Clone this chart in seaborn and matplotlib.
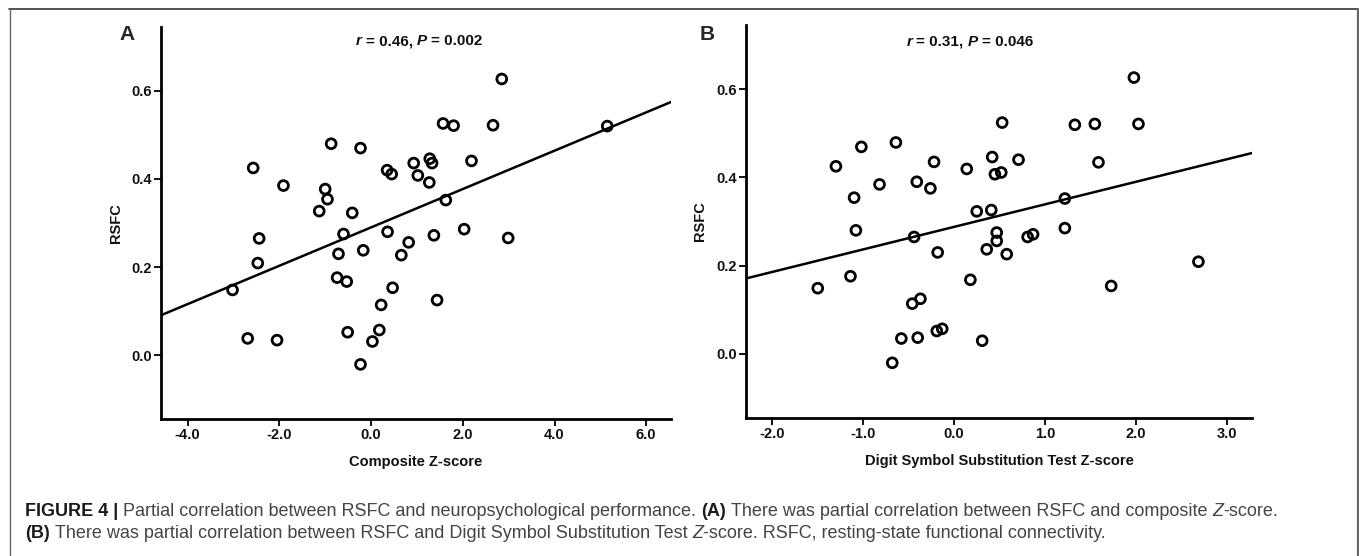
import matplotlib
matplotlib.use("Agg")
import matplotlib.pyplot as plt
import seaborn as sns
import numpy as np
import pandas as pd
from matplotlib import font_manager
from matplotlib.transforms import IdentityTransform
from matplotlib.lines import Line2D

# ---------------- data ----------------
composite_z = [-3.02, -2.69, -2.57, -2.44, -2.47, -2.05, -1.91, -1.13, -1.00, -0.95,
               -0.87, -0.74, -0.71, -0.60, -0.53, -0.51, -0.41, -0.23, -0.23, -0.17,
               0.03, 0.18, 0.22, 0.35, 0.36, 0.45, 0.47, 0.66, 0.82, 0.93,
               1.02, 1.27, 1.28, 1.33, 1.37, 1.44, 1.57, 1.63, 1.80, 2.03,
               2.19, 2.66, 2.85, 2.99, 5.15]
rsfc_a = [0.148, 0.038, 0.425, 0.265, 0.209, 0.034, 0.385, 0.327, 0.377, 0.354,
          0.480, 0.176, 0.230, 0.275, 0.167, 0.052, 0.323, 0.470, -0.021, 0.238,
          0.031, 0.057, 0.114, 0.420, 0.280, 0.411, 0.153, 0.227, 0.256, 0.436,
          0.408, 0.392, 0.446, 0.436, 0.272, 0.125, 0.526, 0.352, 0.521, 0.286,
          0.441, 0.522, 0.627, 0.266, 0.520]

dsst_z = [-1.50, -1.30, -1.14, -1.10, -1.08, -1.02, -0.82, -0.68, -0.64, -0.58,
          -0.46, -0.44, -0.41, -0.40, -0.37, -0.26, -0.22, -0.19, -0.18, -0.13,
          0.14, 0.18, 0.25, 0.31, 0.36, 0.41, 0.42, 0.45, 0.47, 0.47,
          0.52, 0.53, 0.58, 0.71, 0.81, 0.87, 1.22, 1.22, 1.33, 1.55,
          1.59, 1.73, 1.98, 2.03, 2.69]
rsfc_b = [0.149, 0.425, 0.176, 0.354, 0.280, 0.469, 0.384, -0.020, 0.479, 0.035,
          0.114, 0.265, 0.390, 0.037, 0.125, 0.375, 0.435, 0.052, 0.230, 0.057,
          0.419, 0.168, 0.323, 0.030, 0.237, 0.326, 0.446, 0.407, 0.275, 0.256,
          0.411, 0.524, 0.226, 0.440, 0.265, 0.271, 0.352, 0.285, 0.519, 0.521,
          0.434, 0.154, 0.626, 0.521, 0.209]

xticks_a = [-4.0, -2.0, 0.0, 2.0, 4.0, 6.0]
xticks_b = [-2.0, -1.0, 0.0, 1.0, 2.0, 3.0]
yticks = [0.0, 0.2, 0.4, 0.6]
xlim_a = (-4.58, 6.54)
xlim_b = (-2.29, 3.28)
ylim = (-0.145, 0.745)

panel_labels = ["A", "B"]
xlabels = ["Composite Z-score", "Digit Symbol Substitution Test Z-score"]
ylabel = "RSFC"
stats_a = ("0.46", "0.002")
stats_b = ("0.31", "0.046")

# (text, weight, style, space_before, colour)
caption_line1 = [("FIGURE 4 |", "bold", "normal", False, "#1a1a1a"),
                 ("Partial correlation between RSFC and neuropsychological performance.", "normal", "normal", True, "#444444"),
                 ("(A)", "bold", "normal", True, "#1a1a1a"),
                 ("There was partial correlation between RSFC and composite", "normal", "normal", True, "#444444"),
                 ("Z", "normal", "italic", True, "#444444"),
                 ("-score.", "normal", "normal", False, "#444444")]
caption_line2 = [("(B)", "bold", "normal", False, "#1a1a1a"),
                 ("There was partial correlation between RSFC and Digit Symbol Substitution Test", "normal", "normal", True, "#444444"),
                 ("Z", "normal", "italic", True, "#444444"),
                 ("-score. RSFC, resting-state functional connectivity.", "normal", "normal", False, "#444444")]

# ---------------- style ----------------
sns.set_theme(style="ticks")
names = {f.name for f in font_manager.fontManager.ttflist}
NARROW = "Liberation Sans Narrow" if "Liberation Sans Narrow" in names else "Liberation Sans"
plt.rcParams["font.family"] = [NARROW, "DejaVu Sans"]

W, H = 1359, 556
fig = plt.figure(figsize=(W / 100, H / 100), dpi=100)
fig.patch.set_facecolor("white")


def rect(l, r, t, b):
    return [l / W, 1 - b / H, (r - l) / W, (b - t) / H]


axA = fig.add_axes(rect(161, 671, 27, 419))
axB = fig.add_axes(rect(746, 1252, 25, 418))

panels = [
    (axA, composite_z, rsfc_a, xticks_a, xlim_a),
    (axB, dsst_z, rsfc_b, xticks_b, xlim_b),
]

TICKFS = 10.5
for i, (ax, xv, yv, xt, xl) in enumerate(panels):
    df = pd.DataFrame({"x": xv, "y": yv})
    ax.set_xlim(*xl)
    ax.set_ylim(*ylim)
    sns.regplot(data=df, x="x", y="y", ax=ax, ci=None, truncate=False,
                scatter=False, line_kws=dict(color="black", lw=1.8))
    sns.scatterplot(data=df, x="x", y="y", ax=ax, marker="o", s=50,
                    facecolor="none", edgecolor="black", linewidth=2.0, zorder=3)
    ax.set_xlim(*xl)
    ax.set_ylim(*ylim)
    ax.set_xticks(xt)
    ax.set_yticks(yticks)
    ax.set_xticklabels([f"{v:.1f}" for v in xt], fontweight="bold", fontsize=TICKFS)
    ax.set_yticklabels([f"{v:.1f}" for v in yticks], fontweight="bold", fontsize=TICKFS)
    ax.tick_params(direction="out", length=5, width=1.3, color="black", pad=1.5,
                   labelcolor="#111111")
    sns.despine(ax=ax)
    for sp in ("left", "bottom"):
        ax.spines[sp].set_linewidth(2.0)
        ax.spines[sp].set_color("black")
    ax.set_facecolor("white")
    ax.set_xlabel(xlabels[i], fontweight="bold", fontsize=TICKFS, color="#111111")
    ax.set_ylabel(ylabel, fontweight="bold", fontsize=TICKFS, color="#111111")

axA.xaxis.set_label_coords(0.5, (419 - 455) / 392)
axA.yaxis.set_label_coords((123 - 161) / 510, 0.5)
axB.xaxis.set_label_coords(0.5, (418 - 454) / 393)
axB.yaxis.set_label_coords((707 - 746) / 506, 0.5)

# panel letters
fig.text(127 / W, 1 - 34 / H, panel_labels[0], ha="center", va="center",
         fontsize=15, fontweight="bold", family="Liberation Sans")
fig.text(707 / W, 1 - 35 / H, panel_labels[1], ha="center", va="center",
         fontsize=15, fontweight="bold", family="Liberation Sans")

renderer = fig.canvas.get_renderer()


def measure(s, props):
    t = fig.text(0, 0, s, transform=IdentityTransform(), **props)
    w = t.get_window_extent(renderer).width
    t.remove()
    return w


def rich(x_px, y_px, segments, base, ha="left"):
    placed = []
    cur = 0.0
    for seg in segments:
        s, w, st, space_before = seg[:4]
        props = dict(base)
        props.update(fontweight=w, fontstyle=st)
        if len(seg) > 4:
            props["color"] = seg[4]
        width = measure(s, props)
        if space_before and placed:
            cur += measure("x x", props) - measure("xx", props)
        placed.append((s, props, cur))
        cur += width
    start = x_px - cur / 2 if ha == "center" else x_px
    for s, props, xo in placed:
        fig.text(start + xo, H - y_px, s, transform=IdentityTransform(),
                 va="center", ha="left", **props)


# statistics annotation
stat_base = dict(fontsize=11, family=[NARROW, "DejaVu Sans"], color="#111111")
rich(419, 41, [("r", "bold", "italic", False), ("= " + stats_a[0] + ",", "bold", "normal", True),
               ("P", "bold", "italic", True), ("= " + stats_a[1], "bold", "normal", True)],
     stat_base, ha="center")
rich(970, 42, [("r", "bold", "italic", False), ("= " + stats_b[0] + ",", "bold", "normal", True),
               ("P", "bold", "italic", True), ("= " + stats_b[1], "bold", "normal", True)],
     stat_base, ha="center")

# caption
cap_base = dict(fontsize=13, family=["Liberation Sans", "DejaVu Sans"], color="#444444")
rich(25, 511, caption_line1, cap_base)
rich(25, 534, caption_line2, cap_base)

# frame border
fig.add_artist(Line2D([9 / W, 1357.5 / W], [1 - 8.5 / H, 1 - 8.5 / H], transform=fig.transFigure,
                      color="#444444", lw=1.3))
fig.add_artist(Line2D([9.5 / W, 9.5 / W], [0, 1 - 8.5 / H], transform=fig.transFigure,
                      color="#666666", lw=1.0))
fig.add_artist(Line2D([1357.5 / W, 1357.5 / W], [0, 1 - 8.5 / H], transform=fig.transFigure,
                      color="#666666", lw=1.6))

fig.savefig("out.png", dpi=100, facecolor="white")
